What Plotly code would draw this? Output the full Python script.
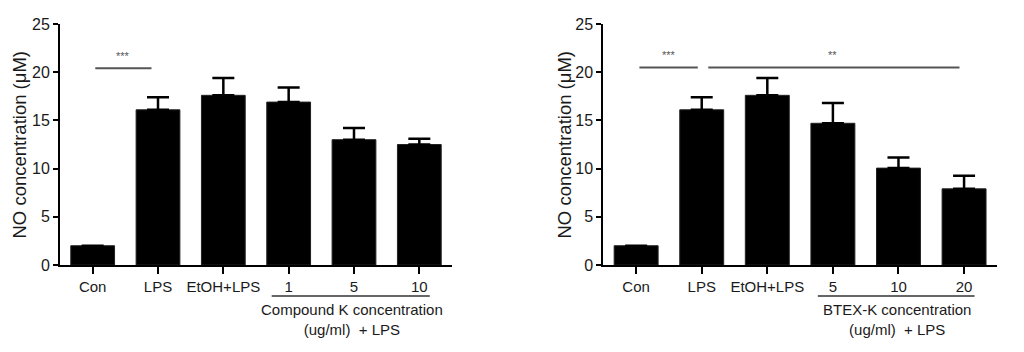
import plotly.graph_objects as go
from plotly.subplots import make_subplots

# ---- data ----
categories_left = ["Con", "LPS", "EtOH+LPS", "1", "5", "10"]
values_left = [2.0, 16.1, 17.6, 16.9, 13.0, 12.5]
errors_left = [0.0, 1.3, 1.8, 1.5, 1.2, 0.6]

categories_right = ["Con", "LPS", "EtOH+LPS", "5", "10", "20"]
values_right = [2.0, 16.1, 17.6, 14.7, 10.05, 7.9]
errors_right = [0.0, 1.3, 1.8, 2.1, 1.1, 1.35]

y_title = "NO concentration (μM)"
y_ticks = [0, 5, 10, 15, 20, 25]
group_label_left = "Compound K concentration<br>(ug/ml)  + LPS"
group_label_right = "BTEX-K concentration<br>(ug/ml)  + LPS"
sig_left = ["***"]
sig_right = ["***", "**"]

FONT = "Liberation Sans, Arial, sans-serif"
TXT = "#1a1a1a"
SIG = "#555555"

fig = make_subplots(rows=1, cols=2)

for col, cats, vals, errs in [(1, categories_left, values_left, errors_left),
                              (2, categories_right, values_right, errors_right)]:
    fig.add_trace(go.Bar(
        x=cats, y=vals,
        marker=dict(color="black", line=dict(color="#222", width=1)),
        error_y=dict(type="data", array=errs, symmetric=False, arrayminus=[0]*len(errs),
                     color="black", thickness=2.5, width=11),
        showlegend=False,
    ), row=1, col=col)

fig.update_layout(
    width=1024, height=352,
    margin=dict(l=0, r=0, t=24, b=87),
    plot_bgcolor="white", paper_bgcolor="white",
    bargap=0.33,
    font=dict(family=FONT, size=15, color=TXT),
    xaxis=dict(domain=[0.0586, 0.4414]),
    xaxis2=dict(domain=[0.5892, 0.9735]),
)

common_x = dict(showline=True, linecolor="black", linewidth=2, ticks="outside",
                ticklen=7, tickwidth=2, tickcolor="black", showgrid=False,
                range=[-0.5, 5.5], tickfont=dict(size=15, family=FONT, color=TXT))
common_y = dict(showline=True, linecolor="black", linewidth=2, ticks="outside",
                ticklen=5, tickwidth=2, tickcolor="black", showgrid=False,
                range=[0, 25], tickvals=y_ticks, zeroline=False,
                tickfont=dict(size=16, family=FONT, color=TXT))
fig.update_xaxes(**common_x)
fig.update_yaxes(**common_y)

# y-axis titles
for xpos in [19 / 1024, 564 / 1024]:
    fig.add_annotation(xref="paper", yref="paper", x=xpos, y=0.5, text=y_title,
                       textangle=-90, showarrow=False, xanchor="center", yanchor="middle",
                       font=dict(size=18.5, family=FONT, color=TXT))

# significance lines
def sig_line(xref, yref, x0, x1, y, label, lx):
    fig.add_shape(type="line", xref=xref, yref=yref, x0=x0, x1=x1, y0=y, y1=y,
                  line=dict(color=SIG, width=2))
    fig.add_annotation(xref=xref, yref=yref, x=lx, y=y, text=label, showarrow=False,
                       yanchor="bottom", yshift=4, font=dict(size=11, color=SIG, family=FONT))

sig_line("x", "y", 0.04, 0.9, 20.4, sig_left[0], 0.47)
sig_line("x2", "y2", 0.05, 0.94, 20.5, sig_right[0], 0.5)
sig_line("x2", "y2", 1.10, 4.93, 20.5, sig_right[1], 3.0)

# group brackets under axes
for xref, x0, x1, label in [("x", 2.74, 5.16, group_label_left),
                            ("x2", 2.77, 5.16, group_label_right)]:
    fig.add_shape(type="line", xref=xref, yref="paper", x0=x0, x1=x1, y0=-0.129, y1=-0.129,
                  line=dict(color="#333", width=1.5))
    fig.add_annotation(xref=xref, yref="paper", x=3.97, y=-0.14, text=label, showarrow=False,
                       yanchor="top", font=dict(size=15, family=FONT, color=TXT))

fig.write_html("out.html")
